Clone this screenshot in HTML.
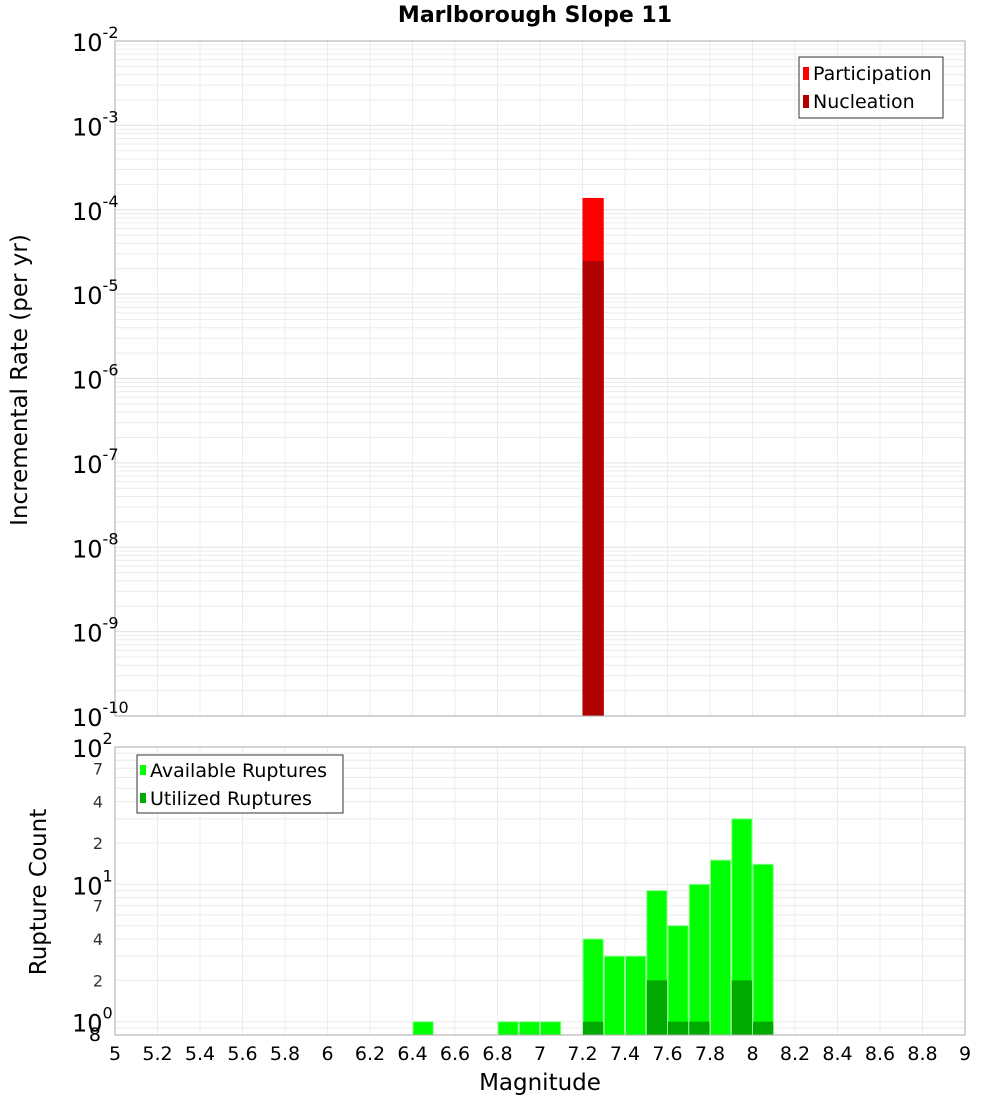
<!DOCTYPE html>
<html><head><meta charset="utf-8"><style>
body{margin:0;background:#fff;}
svg{display:block;font-family:"Liberation Sans","DejaVu Sans",sans-serif;}
</style></head><body>
<svg id="chart" width="1000" height="1100" xmlns="http://www.w3.org/2000/svg">
<text x="535" y="22" text-anchor="middle" font-size="22" font-weight="bold" font-family="DejaVu Sans, sans-serif">Marlborough Slope 11</text>
<g id="topPanel"></g>
<g id="botPanel"></g>
<text transform="translate(27,380) rotate(-90)" text-anchor="middle" font-size="23" font-family="DejaVu Sans, sans-serif">Incremental Rate (per yr)</text>
<text transform="translate(46,892) rotate(-90)" text-anchor="middle" font-size="23" font-family="DejaVu Sans, sans-serif">Rupture Count</text>
<text x="540" y="1090" text-anchor="middle" font-size="23" font-family="DejaVu Sans, sans-serif">Magnitude</text>
</svg>
<script>
const magBins=[6.45,6.85,6.95,7.05,7.25,7.35,7.45,7.55,7.65,7.75,7.85,7.95,8.05];
const availableCounts=[1,1,1,1,4,3,3,9,5,10,15,30,14];
const utilizedCounts=[0,0,0,0,1,0,0,2,1,1,0,2,1];
const rateBins=[7.25];
const participationRates=[1.38e-4];
const nucleationRates=[2.47e-5];
const xTicks=[5,5.2,5.4,5.6,5.8,6,6.2,6.4,6.6,6.8,7,7.2,7.4,7.6,7.8,8,8.2,8.4,8.6,8.8,9];
const xTickLabels=["5","5.2","5.4","5.6","5.8","6","6.2","6.4","6.6","6.8","7","7.2","7.4","7.6","7.8","8","8.2","8.4","8.6","8.8","9"];
const rateExps=[-2,-3,-4,-5,-6,-7,-8,-9,-10];
const countMinorLabels=[2,4,7];

const NS="http://www.w3.org/2000/svg";
const X0=115,X1=965;
const xs=m=>X0+(m-5)/4*(X1-X0);
const T0=41,T1=716;
const yTop=v=>T0+(-2-Math.log10(v))/8*(T1-T0);
const B0=747,B1=1035,BMIN=0.8,BMAX=100;
const yBot=v=>B0+(Math.log10(BMAX)-Math.log10(v))/(Math.log10(BMAX)-Math.log10(BMIN))*(B1-B0);
function mk(p,tag,at,txt){const e=document.createElementNS(NS,tag);for(const k in at)e.setAttribute(k,at[k]);if(txt!=null)e.textContent=txt;p.appendChild(e);return e;}
const topG=document.getElementById('topPanel'),botG=document.getElementById('botPanel');

for(let d=-10;d<-2;d++)for(let k=1;k<10;k++){const y=yTop(k*Math.pow(10,d));
 const l=mk(topG,'line',{x1:X0,x2:X1,y1:y,y2:y,stroke:k==1?'#e0e0e0':'#ececec','stroke-width':1});
 
 }
xTicks.forEach(t=>{const l=mk(topG,'line',{x1:xs(t),x2:xs(t),y1:T0,y2:T1,stroke:'#ececec'});
 
 });
rateBins.forEach((m,i)=>{
 const x=xs(m-0.05),w=xs(m+0.05)-x;
 const r=mk(topG,'rect',{x:x,y:yTop(participationRates[i]),width:w,height:T1-yTop(participationRates[i]),fill:'#ff0000'});
 
 
 const n=mk(topG,'rect',{x:x,y:yTop(nucleationRates[i]),width:w,height:T1-yTop(nucleationRates[i]),fill:'#b00000'});
 
 
});
const tb=mk(topG,'rect',{x:X0,y:T0,width:X1-X0,height:T1-T0,fill:'none',stroke:'#aaa'});


rateExps.forEach(e=>{const y=yTop(Math.pow(10,e));
 const t=mk(topG,'text',{x:72,y:y+10,'font-size':24,'font-family':'DejaVu Sans, sans-serif'});
 
 
 mk(t,'tspan',{},'10');mk(t,'tspan',{dy:-13,'font-size':16},String(e));});
const lg=mk(topG,'g',{});


mk(lg,'rect',{x:799,y:57,width:144,height:61,fill:'#fff',stroke:'#333'});
mk(lg,'rect',{x:803,y:67,width:6,height:13,fill:'#ff0000'});
mk(lg,'text',{x:813,y:80,'font-size':19,'font-family':'DejaVu Sans, sans-serif'},'Participation');
mk(lg,'rect',{x:803,y:95,width:6,height:13,fill:'#b00000'});
mk(lg,'text',{x:813,y:108,'font-size':19,'font-family':'DejaVu Sans, sans-serif'},'Nucleation');

[0.8,0.9,1,2,3,4,5,6,7,8,9,10,20,30,40,50,60,70,80,90].forEach(v=>{const y=yBot(v);
 const l=mk(botG,'line',{x1:X0,x2:X1,y1:y,y2:y,stroke:'#ececec'});
 
 });
xTicks.forEach(t=>{const l=mk(botG,'line',{x1:xs(t),x2:xs(t),y1:B0,y2:B1,stroke:'#ececec'});
 
 });
magBins.forEach((m,i)=>{
 const x=xs(m-0.05)+0.5,w=xs(m+0.05)-xs(m-0.05)-1;
 const a=mk(botG,'rect',{x:x,y:yBot(availableCounts[i]),width:w,height:B1-yBot(availableCounts[i]),fill:'#00ff00',stroke:'#90ff90','stroke-width':1});
 
 
 if(utilizedCounts[i]>0){const u=mk(botG,'rect',{x:x,y:yBot(utilizedCounts[i]),width:w,height:B1-yBot(utilizedCounts[i]),fill:'#00aa00'});
 
 }
});
const bb=mk(botG,'rect',{x:X0,y:B0,width:X1-X0,height:B1-B0,fill:'none',stroke:'#aaa'});


[0,1,2].forEach(e=>{const y=yBot(Math.pow(10,e));
 const t=mk(botG,'text',{x:72,y:y+10,'font-size':24,'font-family':'DejaVu Sans, sans-serif'});
 
 
 mk(t,'tspan',{},'10');mk(t,'tspan',{dy:-13,'font-size':16},String(e));});
[0,1].forEach(e=>countMinorLabels.forEach(k=>{const y=yBot(k*Math.pow(10,e));
 const t=mk(botG,'text',{x:103,y:y+6,'text-anchor':'end','font-size':16,fill:'#333','font-family':'DejaVu Sans, sans-serif'},String(k));
 
 }));
const eight=mk(botG,'text',{x:101,y:yBot(0.8)+6,'text-anchor':'end','font-size':19,'font-family':'DejaVu Sans, sans-serif'},'8');


xTicks.forEach((t,i)=>{const e=mk(botG,'text',{x:xs(t),y:1060,'text-anchor':'middle','font-size':19,'font-family':'DejaVu Sans, sans-serif'},xTickLabels[i]);
 
 });
const lg2=mk(botG,'g',{});


mk(lg2,'rect',{x:137,y:755,width:206,height:58,fill:'#fff',stroke:'#333'});
mk(lg2,'rect',{x:140,y:765,width:6,height:10,fill:'#00ff00'});
mk(lg2,'text',{x:150,y:777,'font-size':19,'font-family':'DejaVu Sans, sans-serif'},'Available Ruptures');
mk(lg2,'rect',{x:140,y:793,width:6,height:10,fill:'#00aa00'});
mk(lg2,'text',{x:150,y:805,'font-size':19,'font-family':'DejaVu Sans, sans-serif'},'Utilized Ruptures');
</script>
</body></html>
